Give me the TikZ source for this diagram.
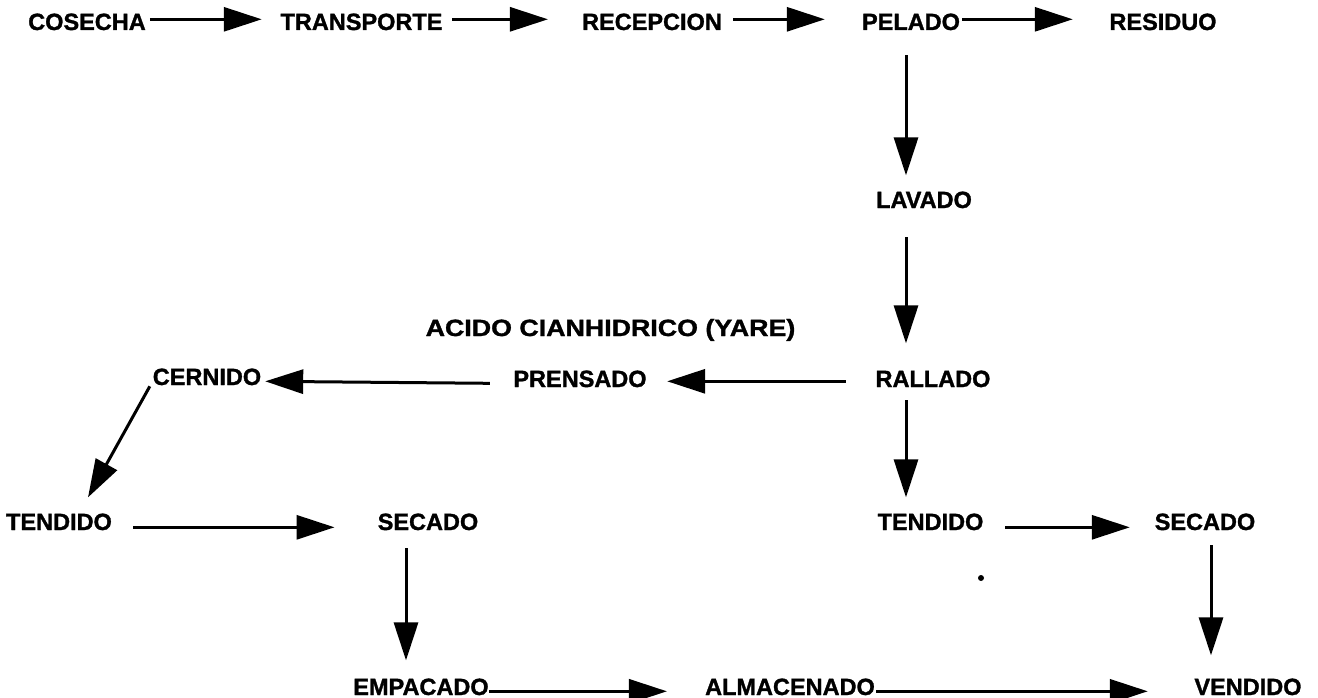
\documentclass[tikz,border=0pt]{standalone}
\usepackage{fontspec}
\setmainfont{Liberation Sans}
\newfontfamily\heavy[FakeBold=1.3]{Liberation Sans Bold}
\usetikzlibrary{arrows.meta}
\begin{document}
\begin{tikzpicture}[x=1pt,y=-1pt,
  lbl/.style={inner sep=0pt,anchor=base,font=\fontsize{23.5}{28}\heavy},
  arr/.style={line width=3pt,-{Triangle[length=38pt,width=24pt]}}]
\useasboundingbox (0,0) rectangle (1318,698);
% nodes
\node[lbl] (cos) at (87,30) {COSECHA};
\node[lbl] (tra) at (361.5,30) {TRANSPORTE};
\node[lbl] (rec) at (652,30) {RECEPCION};
\node[lbl] (pel) at (911,30) {PELADO};
\node[lbl] (res) at (1163,30) {RESIDUO};
\node[lbl] (lav) at (924,208) {LAVADO};
\node[lbl] (aci) at (610.5,336) {\scalebox{1.14}[1]{ACIDO CIANHIDRICO (YARE)}};
\node[lbl] (ral) at (933,387) {RALLADO};
\node[lbl] (pre) at (580,387) {PRENSADO};
\node[lbl] (cer) at (207,385) {CERNIDO};
\node[lbl] (tel) at (59,530) {TENDIDO};
\node[lbl] (sel) at (428,530) {SECADO};
\node[lbl] (ter) at (930.5,530) {TENDIDO};
\node[lbl] (ser) at (1205,530) {SECADO};
\node[lbl] (emp) at (421,695) {EMPACADO};
\node[lbl] (alm) at (790,695) {ALMACENADO};
\node[lbl] (ven) at (1248,695) {VENDIDO};
% top row
\draw[arr] ([xshift=4,yshift=2.6]cos.east) -- ([xshift=-18.6,yshift=2.6]tra.west);
\draw[arr] ([xshift=9.6,yshift=2.6]tra.east) -- ([xshift=-34,yshift=2.6]rec.west);
\draw[arr] ([xshift=11,yshift=2.6]rec.east) -- ([xshift=-37,yshift=2.6]pel.west);
\draw[arr] ([xshift=2,yshift=2.6]pel.east) -- ([xshift=-36.5,yshift=2.6]res.west);
% verticals centre
\draw[arr] ([xshift=-5,yshift=-25]pel.south) -- ([xshift=-18,yshift=16]lav.north);
\draw[arr] ([xshift=-18,yshift=-29]lav.south) -- ([xshift=-27,yshift=27]ral.north);
\draw[arr] ([xshift=-27,yshift=-13]ral.south) -- ([xshift=-24.5,yshift=16]ter.north);
% middle row
\draw[arr] ([xshift=-29.6,yshift=-2.4]ral.west) -- ([xshift=20.4,yshift=-2.4]pre.east);
\draw[arr] ([xshift=-23.4,yshift=-4.4]pre.west) -- ([xshift=3.8,yshift=-4.4]cer.east);
\draw[arr] ([xshift=-2.8,yshift=-9.4]cer.west) -- ([xshift=29,yshift=16]tel.north);
% tendido rows
\draw[arr] ([xshift=21,yshift=-5.4]tel.east) -- ([xshift=-43,yshift=-5.4]sel.west);
\draw[arr] ([xshift=21.5,yshift=-5.4]ter.east) -- ([xshift=-24.7,yshift=-5.4]ser.west);
\draw[arr] ([xshift=-22,yshift=-18]sel.south) -- ([xshift=-15,yshift=18]emp.north);
\draw[arr] ([xshift=6,yshift=-15]ser.south) -- ([xshift=-37,yshift=23]ven.north);
% bottom row
\draw[arr] ([xshift=0.5,yshift=-4.4]emp.east) -- ([xshift=-38,yshift=-4.4]alm.west);
\draw[arr] ([xshift=1,yshift=-4.4]alm.east) -- ([xshift=-46.5,yshift=-4.4]ven.west);
% stray dot
\fill (981,578) circle (3);
\end{tikzpicture}
\end{document}
